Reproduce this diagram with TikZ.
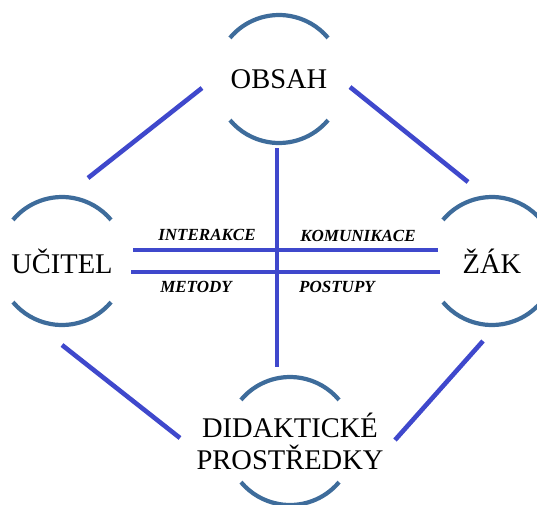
\documentclass[tikz,border=0pt]{standalone}
\usepackage{fontspec}
\setmainfont{Liberation Serif}
\definecolor{linkblue}{RGB}{63,72,204}
\definecolor{ringblue}{RGB}{62,108,155}

\begin{document}
\begin{tikzpicture}[x=1pt,y=-1pt,
	link/.style={linkblue,line width=4.6pt},
	ring/.style={ringblue,line width=4.2pt},
	big/.style={font=\fontsize{28.5}{32}\selectfont,align=center,inner sep=0pt},
	small/.style={font=\fontsize{17}{19}\selectfont\bfseries\itshape,inner sep=0pt}]

	\useasboundingbox (0,0) rectangle (537,504);

	\coordinate (o) at (279,79);
	\coordinate (u) at (62,261);
	\coordinate (z) at (492,261);
	\coordinate (d) at (290,441);

	\foreach \c in {o,u,z,d}{
		\draw[ring] (\c) ++(220:64) arc[start angle=220,end angle=320,radius=64];
		\draw[ring] (\c) ++(40:64) arc[start angle=40,end angle=140,radius=64];
	}

	\node[big] (obsah) at (o) {OBSAH};
	\node[big] (ucitel) at (u) {UČITEL};
	\node[big] (zak) at (z) {ŽÁK};
	\node[big] (prostredky) at (d) {DIDAKTICKÉ\\PROSTŘEDKY};

	% diagonals
	\coordinate (ul1) at (88,178);
	\coordinate (ul2) at (202,88);
	\coordinate (ur1) at (350,87);
	\coordinate (ur2) at (468,182);
	\coordinate (ll1) at (62,345);
	\coordinate (ll2) at (180,438);
	\coordinate (lr1) at (483,341);
	\coordinate (lr2) at (395,440);
	\draw[link] (ul1) -- (ul2);
	\draw[link] (ur1) -- (ur2);
	\draw[link] (ll1) -- (ll2);
	\draw[link] (lr1) -- (lr2);

	% cross
	\coordinate (h1a) at (133,250);
	\coordinate (h1b) at (438,250);
	\coordinate (h2a) at (131,272);
	\coordinate (h2b) at (440,272);
	\coordinate (va) at (277,148);
	\coordinate (vb) at (277,367);
	\draw[link] (h1a) -- (h1b);
	\draw[link] (h2a) -- (h2b);
	\draw[link] (va) -- (vb);

	\node[small] (interakce) at (207,235) {INTERAKCE};
	\node[small] (komunikace) at (358,236) {KOMUNIKACE};
	\node[small] (metody) at (196,287) {METODY};
	\node[small] (postupy) at (337,287) {POSTUPY};

\end{tikzpicture}
\end{document}
